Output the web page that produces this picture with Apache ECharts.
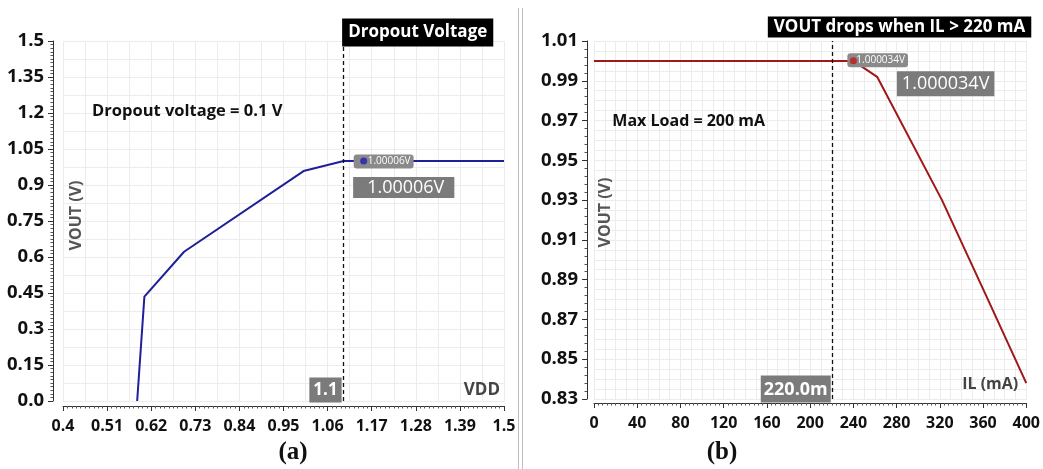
<!DOCTYPE html>
<html><head><meta charset="utf-8">
<script src="https://cdn.jsdelivr.net/npm/echarts@6/dist/echarts.min.js"></script>
<style>html,body{margin:0;padding:0;background:#fff}#c{width:1043px;height:469px}</style>
</head><body><div id="c"></div>
<script>
// ---------- Panel (a): VOUT vs VDD ----------
const vddA  = [0.585, 0.603, 0.702, 1.0, 1.1, 1.5];
const voutA = [0, 0.435, 0.622, 0.958, 1.0, 1.0];
const xTicksA = ['0.4','0.51','0.62','0.73','0.84','0.95','1.06','1.17','1.28','1.39','1.5'];
const yTicksA = ['0.0','0.15','0.3','0.45','0.6','0.75','0.9','1.05','1.2','1.35','1.5'];
const dropoutVdd = 1.1;
const cursorA = [1.15, 1.00006];
const cursorTextA = '1.00006V';

// ---------- Panel (b): VOUT vs IL ----------
const ilB   = [0, 240, 262, 322, 362, 400];
const voutB = [1.0, 1.0, 0.992, 0.930, 0.883, 0.838];
const xTicksB = ['0','40','80','120','160','200','240','280','320','360','400'];
const yTicksB = ['0.83','0.85','0.87','0.89','0.91','0.93','0.95','0.97','0.99','1.01'];
const dropIL = 220;
const cursorB = [240, 1.000034];
const cursorTextB = '1.000034V';

// axis transforms (so that ticks start at the axis minimum)
const txA = v => Math.round((v - 0.4) * 10000) / 100;   // 0..110
const tyA = v => Math.round(v * 10000) / 100;           // 0..150
const txB = v => v;                                     // 0..400
const tyB = v => Math.round((v - 0.83) * 100000) / 1000;// 0..18

const FONT = 'Open Sans';
const gray = '#7b7b7b';

function ann(coord, text, lab) {
  return {coord, symbolSize: 1, itemStyle: {color: 'transparent'},
    label: Object.assign({show: true, formatter: text, position: 'inside', fontFamily: FONT}, lab)};
}

function mainX(gridIndex, min, max, interval, labels, step, offset) {
  return {type: 'value', gridIndex, min, max, interval, position: 'bottom', offset,
    axisLine: {show: true, onZero: false, lineStyle: {color: '#333', width: 1}},
    axisTick: {show: true, length: 5, lineStyle: {color: '#333'}},
    minorTick: {show: true, splitNumber: 10, length: 2.5, lineStyle: {color: '#555'}},
    axisLabel: {margin: 12, color: '#111', fontWeight: 'bold', fontSize: 16, fontFamily: FONT,
      formatter: v => { const i = Math.round(v / step); return Math.abs(i * step - v) < 1e-6 ? (labels[i] ?? '') : ''; }},
    splitLine: {show: true, lineStyle: {color: '#dadada', width: 1}},
    minorSplitLine: {show: false}};
}
function mainY(gridIndex, min, max, interval, labels, step, offset, minorN) {
  return {type: 'value', gridIndex, min, max, interval, position: 'left', offset,
    axisLine: {show: true, onZero: false, lineStyle: {color: '#333', width: 1}},
    axisTick: {show: true, length: 5, lineStyle: {color: '#333'}},
    minorTick: {show: true, splitNumber: minorN, length: 2.5, lineStyle: {color: '#555'}},
    axisLabel: {margin: 9, color: '#111', fontWeight: 'bold', fontSize: 18.5, fontFamily: FONT,
      formatter: v => { const i = Math.round(v / step); return Math.abs(i * step - v) < 1e-6 ? (labels[i] ?? '') : ''; }},
    splitLine: {show: true, lineStyle: {color: '#dadada', width: 1}},
    minorSplitLine: {show: false}};
}
function helper(gridIndex, min, max, interval) {
  return {type: 'value', gridIndex, min, max, interval,
    axisLine: {show: false}, axisTick: {show: false}, axisLabel: {show: false},
    splitLine: {show: true, lineStyle: {color: '#ececec', width: 1}}};
}

const option = {
  animation: false,
  backgroundColor: '#ffffff',
  title: [
    {text: '(a)', left: 288, top: 435, textAlign: 'center',
     textStyle: {fontFamily: 'Liberation Serif', fontWeight: 'bold', fontSize: 25, color: '#111'}},
    {text: '(b)', left: 717, top: 435, textAlign: 'center',
     textStyle: {fontFamily: 'Liberation Serif', fontWeight: 'bold', fontSize: 25, color: '#111'}}
  ],
  grid: [
    {left: 63, top: 41, width: 441, height: 360, containLabel: false},
    {left: 594, top: 41, width: 436, height: 358, containLabel: false}
  ],
  xAxis: [
    mainX(0, 0, 110, 11, xTicksA, 11, 5),
    helper(0, 0, 110, 5.5),
    mainX(1, 0, 400, 40, xTicksB, 40, 4),
    helper(1, 0, 400, 10)
  ],
  yAxis: [
    mainY(0, 0, 150, 15, yTicksA, 15, 10, 10),
    helper(0, 0, 150, 7.5),
    mainY(1, 0, 18, 2, yTicksB, 2, 7, 5),
    helper(1, 0, 18, 0.5)
  ],
  graphic: [
    {type: 'line', shape: {x1: 518.5, y1: 8, x2: 518.5, y2: 469}, style: {stroke: '#bdbdbd', lineWidth: 1}, silent: true},
    {type: 'line', shape: {x1: 522.5, y1: 8, x2: 522.5, y2: 469}, style: {stroke: '#bdbdbd', lineWidth: 1}, silent: true}
  ],
  series: [
    {
      type: 'line', xAxisIndex: 0, yAxisIndex: 0, z: 3, symbol: 'none',
      data: vddA.map((v, i) => [txA(v), tyA(voutA[i])]),
      lineStyle: {color: '#1f1f99', width: 2},
      markLine: {silent: true, symbol: ['none', 'none'], label: {show: false},
        lineStyle: {color: '#111', type: [4, 3], width: 1.3},
        data: [{xAxis: txA(dropoutVdd)}]},
      markPoint: {silent: true, data: [
        ann([txA(dropoutVdd), 150], 'Dropout Voltage', {align: 'left', verticalAlign: 'bottom', offset: [-1.5, 6],
          backgroundColor: '#000', color: '#fff', fontWeight: 'bold', fontSize: 17, lineHeight: 22, padding: [3, 6, 3, 6]}),
        ann([txA(0.48), tyA(1.2)], 'Dropout voltage = 0.1 V', {align: 'left', verticalAlign: 'middle', offset: [-3, -1],
          color: '#111', fontWeight: 'bold', fontSize: 16.5}),
        ann([3.24, 77.1], 'VOUT (V)', {rotate: 90, align: 'center', verticalAlign: 'middle',
          color: '#555', fontWeight: 'bold', fontSize: 16}),
        ann([txA(cursorA[0]), tyA(cursorA[1])], cursorTextA, {align: 'left', verticalAlign: 'middle', offset: [-10, 1],
          backgroundColor: '#8a8a8a', color: '#fff', fontSize: 10, lineHeight: 12, padding: [1, 3, 1, 14], borderRadius: 3}),
        ann([txA(dropoutVdd), tyA(1.0)], cursorTextA, {align: 'left', verticalAlign: 'top', offset: [9.5, 16.5],
          backgroundColor: gray, color: '#fff', fontSize: 18, lineHeight: 19, padding: [1, 10, 1, 14]}),
        ann([txA(dropoutVdd), 0], '1.1', {align: 'right', verticalAlign: 'bottom', offset: [-2, 2],
          backgroundColor: gray, color: '#fff', fontWeight: 'bold', fontSize: 17, lineHeight: 20, padding: [3, 4, 2, 4]}),
        ann([110, 0], 'VDD', {align: 'right', verticalAlign: 'middle', offset: [-4, -10],
          color: '#444', fontWeight: 'bold', fontSize: 17})
      ]}
    },
    {
      type: 'scatter', xAxisIndex: 0, yAxisIndex: 0, z: 6, symbolSize: 7,
      itemStyle: {color: '#1f1fb0'}, data: [[txA(cursorA[0]), tyA(cursorA[1])]]
    },
    {
      type: 'line', xAxisIndex: 2, yAxisIndex: 2, z: 3, symbol: 'none',
      data: ilB.map((v, i) => [txB(v), tyB(voutB[i])]),
      lineStyle: {color: '#a01818', width: 2},
      markLine: {silent: true, symbol: ['none', 'none'], label: {show: false},
        lineStyle: {color: '#111', type: [4, 3], width: 1.3},
        data: [{xAxis: txB(dropIL)}]},
      markPoint: {silent: true, data: [
        ann([400, 18], 'VOUT drops when IL > 220 mA', {align: 'right', verticalAlign: 'bottom', offset: [5, -3],
          backgroundColor: '#000', color: '#fff', fontWeight: 'bold', fontSize: 17, lineHeight: 19, padding: [1, 6, 1, 6]}),
        ann([17, tyB(0.97)], 'Max Load = 200 mA', {align: 'left', verticalAlign: 'middle', offset: [0, 1.5],
          color: '#111', fontWeight: 'bold', fontSize: 16}),
        ann([11, 9.35], 'VOUT (V)', {rotate: 90, align: 'center', verticalAlign: 'middle',
          color: '#555', fontWeight: 'bold', fontSize: 16}),
        ann([txB(cursorB[0]), tyB(cursorB[1])], cursorTextB, {align: 'left', verticalAlign: 'middle', offset: [-6, 0],
          backgroundColor: '#8a8a8a', color: '#fff', fontSize: 10, lineHeight: 12, padding: [1, 3, 1, 9], borderRadius: 3}),
        ann([txB(cursorB[0]), tyB(1.0)], cursorTextB, {align: 'left', verticalAlign: 'top', offset: [43.5, 11],
          backgroundColor: gray, color: '#fff', fontSize: 18, lineHeight: 19, padding: [3, 5, 3, 5]}),
        ann([txB(dropIL), 0], '220.0m', {align: 'right', verticalAlign: 'bottom', offset: [-1, 4],
          backgroundColor: gray, color: '#fff', fontWeight: 'bold', fontSize: 18, lineHeight: 20, padding: [4, 3, 3, 3]}),
        ann([400, 0], 'IL (mA)', {align: 'right', verticalAlign: 'middle', offset: [-8, -14],
          color: '#444', fontWeight: 'bold', fontSize: 16})
      ]}
    },
    {
      type: 'scatter', xAxisIndex: 2, yAxisIndex: 2, z: 6, symbolSize: 7,
      itemStyle: {color: '#c81818'}, data: [[txB(cursorB[0]), tyB(cursorB[1])]]
    }
  ]
};
const chart = echarts.init(document.getElementById('c'), null, {renderer: 'canvas'});
chart.setOption(option);
</script>
</body></html>
